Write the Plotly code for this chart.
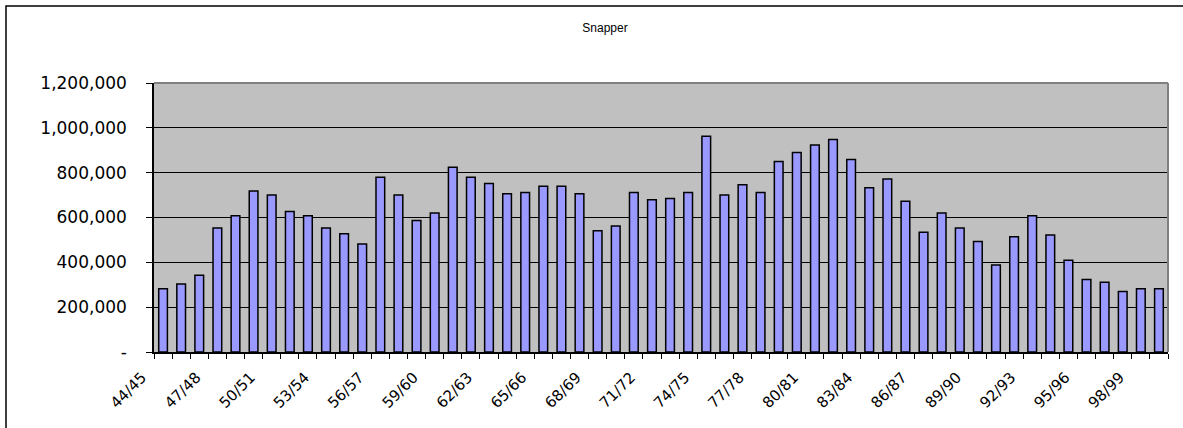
import plotly.graph_objects as go

seasons = [f"{y % 100:02d}/{(y + 1) % 100:02d}" for y in range(1944, 2000)]
catch = [282000, 303000, 342000, 553000, 608000, 718000, 700000, 627000, 608000, 553000,
         528000, 482000, 779000, 700000, 587000, 620000, 824000, 779000, 752000, 706000,
         712000, 739000, 739000, 706000, 541000, 562000, 712000, 679000, 685000, 712000,
         963000, 700000, 746000, 712000, 850000, 890000, 923000, 948000, 859000, 733000,
         772000, 672000, 534000, 620000, 553000, 493000, 388000, 514000, 608000, 522000,
         409000, 323000, 311000, 270000, 282000, 282000]
y_ticks = [0, 200000, 400000, 600000, 800000, 1000000, 1200000]
y_ticktext = ["-", "200,000", "400,000", "600,000", "800,000", "1,000,000", "1,200,000"]

idx = list(range(len(seasons)))
label_idx = idx[::3]
label_txt = [seasons[i] for i in label_idx]

fig = go.Figure(go.Bar(
    x=idx, y=catch,
    marker=dict(color="#9999FF", line=dict(color="black", width=1.5)),
    hoverinfo="skip",
))

W, H = 1183, 428
L, R, T, B = 154, 1168, 83, 352

fig.update_layout(
    width=W, height=H,
    margin=dict(l=L, r=W - R, t=T, b=H - B, autoexpand=False),
    paper_bgcolor="white", plot_bgcolor="#C0C0C0",
    bargap=0.52, showlegend=False,
    title=dict(text="Snapper", x=605 / W, xref="container", xanchor="center",
               y=1 - 28 / H, yref="container", yanchor="middle",
               font=dict(family="Liberation Sans, Arial", size=12, color="black")),
    font=dict(family="DejaVu Sans", size=16, color="black"),
)
fig.update_xaxes(
    range=[-0.5, len(seasons) - 0.5], automargin=False,
    tickmode="array", tickvals=label_idx, ticktext=label_txt,
    tickangle=-45, ticks="", showgrid=False, zeroline=False,
    showline=True, linecolor="black", linewidth=1.5,
    ticklabelshift=-21, ticklabelstandoff=9,
    tickfont=dict(family="DejaVu Sans", size=15),
    minor=dict(tickmode="linear", tick0=-0.5, dtick=1, ticks="outside",
               ticklen=5, tickcolor="black", tickwidth=1, showgrid=False),
)
fig.update_yaxes(
    range=[0, 1200000], automargin=False,
    tickmode="array", tickvals=y_ticks, ticktext=y_ticktext,
    ticks="outside", ticklen=6, tickcolor="black",
    showgrid=True, gridcolor="black", gridwidth=1, zeroline=False,
    showline=True, linecolor="black", linewidth=1.5,
    ticklabelstandoff=16,
    tickfont=dict(family="DejaVu Sans", size=17),
)
fig.add_shape(type="line", xref="paper", yref="paper", x0=0, x1=1, y0=1, y1=1,
              line=dict(color="#808080", width=2))
fig.add_shape(type="line", xref="paper", yref="paper", x0=1, x1=1, y0=0, y1=1,
              line=dict(color="#808080", width=2))
pw, ph = R - L, B - T
fig.add_shape(type="rect", xref="paper", yref="paper",
              x0=(6 - L) / pw, x1=(W + 20 - L) / pw,
              y0=(B - (H + 20)) / ph, y1=(B - 6) / ph,
              line=dict(color="black", width=1.5), fillcolor="rgba(0,0,0,0)")
fig.write_html("out.html", config={"displayModeBar": False},
               post_script="document.body.style.margin='0';document.body.style.overflow='hidden';")
